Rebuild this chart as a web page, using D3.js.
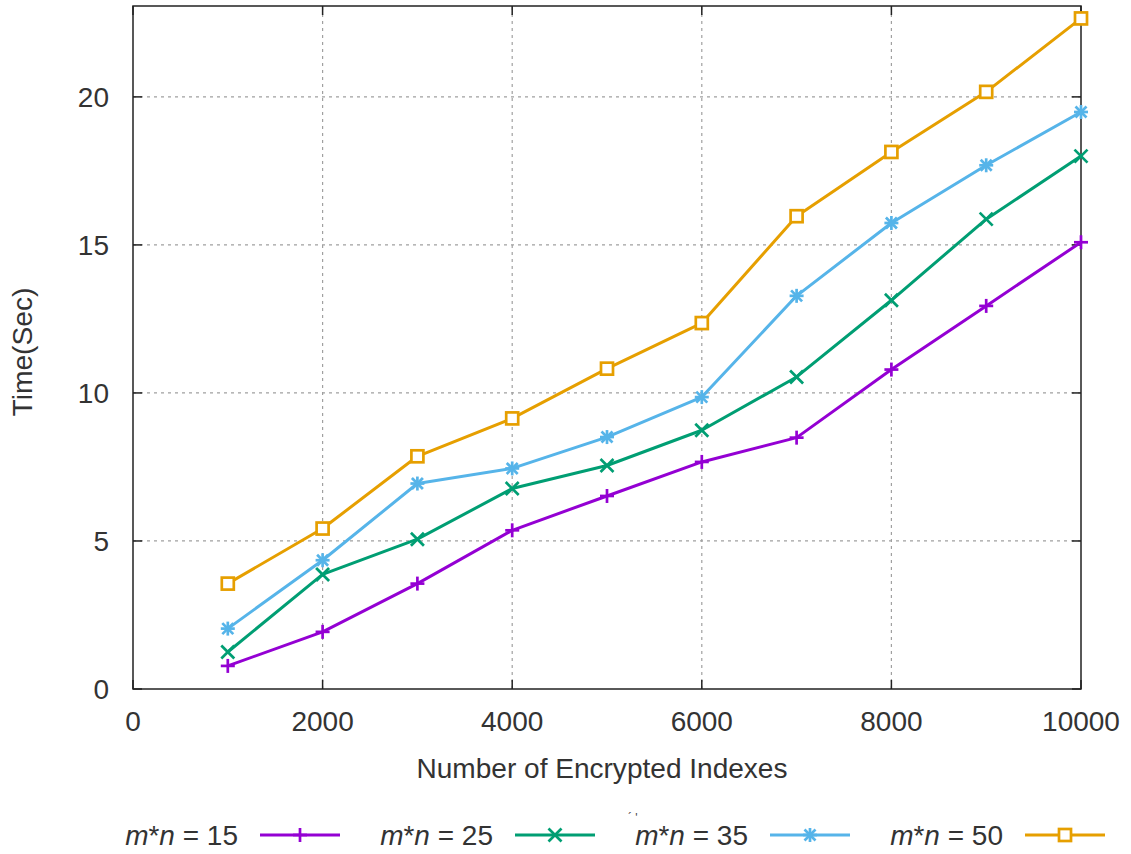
<!DOCTYPE html>
<html>
<head>
<meta charset="utf-8">
<script src="https://cdn.jsdelivr.net/npm/d3@7"></script>
<style>
  html, body { margin: 0; padding: 0; background: #fff; }
  svg { display: block; font-family: "Liberation Sans", Arial, sans-serif; }
</style>
</head>
<body>
<svg id="chart" width="1131" height="854"></svg>
<script>
const xValues = [1000, 2000, 3000, 4000, 5000, 6000, 7000, 8000, 9000, 10000];
const seriesNames = ["15", "25", "35", "50"];
const mn15 = [0.78, 1.93, 3.56, 5.36, 6.52, 7.67, 8.49, 10.79, 12.94, 15.09];
const mn25 = [1.25, 3.87, 5.06, 6.77, 7.55, 8.74, 10.54, 13.13, 15.87, 18.0];
const mn35 = [2.04, 4.35, 6.94, 7.45, 8.51, 9.86, 13.28, 15.74, 17.69, 19.49];
const mn50 = [3.56, 5.42, 7.86, 9.14, 10.82, 12.36, 15.97, 18.14, 20.17, 22.65];
const xTicks = [0, 2000, 4000, 6000, 8000, 10000];
const yTicks = [0, 5, 10, 15, 20];
const xTitle = "Number of Encrypted Indexes";
const yTitle = "Time(Sec)";

const colors = ["#9400d3", "#009e73", "#56b4e9", "#e69f00"];
const markers = ["plus", "cross", "star", "square"];
const series = [mn15, mn25, mn35, mn50].map((vals, i) => ({
  name: seriesNames[i], values: vals, color: colors[i], marker: markers[i]
}));

const svg = d3.select("#chart");
const L = 133, R = 1081, T = 6, B = 689;
const x = d3.scaleLinear().domain([0, 10000]).range([L, R]);
const y = d3.scaleLinear().domain([0, 23.07]).range([B, T]);
const textColor = "#333";

// grid
const grid = svg.append("g").attr("stroke", "#a0a0a0").attr("stroke-width", 1.2)
  .attr("stroke-dasharray", "3,4");
xTicks.filter(t => t > 0 && t < 10000).forEach(t => {
  grid.append("line").attr("x1", x(t)).attr("x2", x(t)).attr("y1", B).attr("y2", T);
});
yTicks.filter(t => t > 0).forEach(t => {
  grid.append("line").attr("x1", L).attr("x2", R).attr("y1", y(t)).attr("y2", y(t));
});

// ticks (inward, mirrored)
const tickLen = 9;
const ticks = svg.append("g").attr("stroke", "#222").attr("stroke-width", 1.5);
xTicks.forEach(t => {
  ticks.append("line").attr("x1", x(t)).attr("x2", x(t)).attr("y1", B).attr("y2", B - tickLen);
  ticks.append("line").attr("x1", x(t)).attr("x2", x(t)).attr("y1", T).attr("y2", T + tickLen);
});
yTicks.forEach(t => {
  ticks.append("line").attr("x1", L).attr("x2", L + tickLen).attr("y1", y(t)).attr("y2", y(t));
  ticks.append("line").attr("x1", R).attr("x2", R - tickLen).attr("y1", y(t)).attr("y2", y(t));
});

// border
svg.append("rect").attr("x", L).attr("y", T).attr("width", R - L).attr("height", B - T)
  .attr("fill", "none").attr("stroke", "#222").attr("stroke-width", 1.5);

// tick labels
const fs = 28;
svg.append("g").selectAll("text").data(xTicks).join("text")
  .attr("x", d => x(d)).attr("y", 731).attr("text-anchor", "middle")
  .attr("font-size", fs).attr("fill", textColor).text(d => d);
svg.append("g").selectAll("text").data(yTicks).join("text")
  .attr("x", 109).attr("y", d => y(d) + 10).attr("text-anchor", "end")
  .attr("font-size", fs).attr("fill", textColor).text(d => d);

// axis titles
svg.append("text").attr("x", 602).attr("y", 778).attr("text-anchor", "middle")
  .attr("font-size", fs).attr("fill", textColor)
  .attr("textLength", 371).attr("lengthAdjust", "spacingAndGlyphs").text(xTitle);
svg.append("text").attr("transform", "translate(32,352) rotate(-90)")
  .attr("text-anchor", "middle").attr("font-size", fs).attr("fill", textColor)
  .attr("textLength", 129).attr("lengthAdjust", "spacingAndGlyphs").text(yTitle);

// marker drawing
function drawMarker(g, type, cx, cy, color) {
  const s = 7;
  const m = g.append("g").attr("stroke", color).attr("stroke-width", 2.7).attr("fill", "none");
  if (type === "plus" || type === "star") {
    m.append("line").attr("x1", cx - s).attr("x2", cx + s).attr("y1", cy).attr("y2", cy);
    m.append("line").attr("x1", cx).attr("x2", cx).attr("y1", cy - s).attr("y2", cy + s);
  }
  if (type === "cross" || type === "star") {
    const c = type === "star" ? 5.5 : 6.5;
    m.append("line").attr("x1", cx - c).attr("x2", cx + c).attr("y1", cy - c).attr("y2", cy + c);
    m.append("line").attr("x1", cx - c).attr("x2", cx + c).attr("y1", cy + c).attr("y2", cy - c);
  }
  if (type === "square") {
    m.append("rect").attr("x", cx - 6).attr("y", cy - 6).attr("width", 12).attr("height", 12)
      .attr("fill", "#fff");
  }
}

// lines
const line = d3.line().x((d, i) => x(xValues[i])).y(d => y(d));
series.forEach(s => {
  svg.append("path").datum(s.values).attr("d", line)
    .attr("fill", "none").attr("stroke", s.color).attr("stroke-width", 3)
    .attr("stroke-linejoin", "round");
  const g = svg.append("g");
  s.values.forEach((v, i) => drawMarker(g, s.marker, x(xValues[i]), y(v), s.color));
});

// legend
const legY = 835;
series.forEach((s, i) => {
  const xEnd = 238 + i * 255;
  const t = svg.append("text").attr("x", xEnd).attr("y", legY + 10).attr("text-anchor", "end")
    .attr("font-size", fs).attr("fill", textColor);
  t.append("tspan").attr("font-style", "italic").text("m");
  t.append("tspan").text("*");
  t.append("tspan").attr("font-style", "italic").text("n");
  t.append("tspan").text(" = " + s.name);
  const lx1 = xEnd + 22, lx2 = xEnd + 102;
  svg.append("line").attr("x1", lx1).attr("x2", lx2).attr("y1", legY).attr("y2", legY)
    .attr("stroke", s.color).attr("stroke-width", 3);
  drawMarker(svg.append("g"), s.marker, (lx1 + lx2) / 2, legY, s.color);
});

// small stray mark above legend
svg.append("text").attr("x", 628).attr("y", 822).attr("font-size", 12).attr("fill", "#444").text("´ '");
</script>
</body>
</html>
